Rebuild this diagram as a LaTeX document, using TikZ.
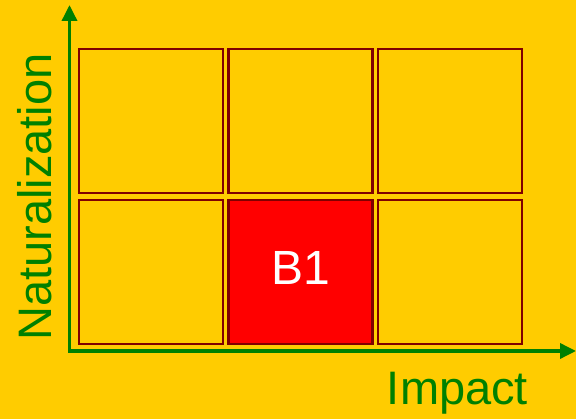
\documentclass[tikz,border=0pt]{standalone}
\usepackage{fontspec}
\setmainfont{Liberation Sans}
\usetikzlibrary{arrows.meta}
\definecolor{bgyellow}{HTML}{FFCC00}
\definecolor{axisgreen}{HTML}{008000}
\definecolor{celledge}{HTML}{800000}
\definecolor{cellred}{HTML}{FF0000}
\tikzset{
  cellbox/.style={draw=celledge, line width=2.3pt, minimum width=144pt, minimum height=144pt, inner sep=0pt, outer sep=0pt},
  axisline/.style={draw=axisgreen, line width=3.5pt, -{Triangle[width=15pt,length=16pt]}},
  axislabel/.style={text=axisgreen, inner sep=0pt, font=\fontsize{47}{56}\selectfont},
}
\begin{document}
\begin{tikzpicture}[x=1pt,y=-1pt]
\fill[bgyellow] (0,0) rectangle (576,419);
\useasboundingbox (0,0) rectangle (576,419);
% cells
\node[cellbox] (c11) at (151,121.25) {};
\node[cellbox] (c12) at (300.5,121.25) {};
\node[cellbox] (c13) at (450,121.25) {};
\node[cellbox] (c21) at (151,271.75) {};
\node[cellbox, fill=cellred, text=white, font=\fontsize{48}{56}\selectfont, text height=34pt, text depth=8pt] (c22) at (300.5,271.75) {B1};
\node[cellbox] (c23) at (450,271.75) {};
% axes
\coordinate (origin) at (69.5,351);
\coordinate (ytop) at (69.5,5);
\coordinate (xend) at (576,351);
\draw[axisline] ([yshift=2pt]origin) -- (ytop);
\draw[axisline] ([xshift=-1.5pt]origin) -- (xend);
% labels
\node[axislabel, rotate=90, anchor=base] (ylab) at (51,197) {Naturalization};
\node[axislabel, anchor=base] (xlab) at (457.5,405) {Impact};
\end{tikzpicture}
\end{document}
